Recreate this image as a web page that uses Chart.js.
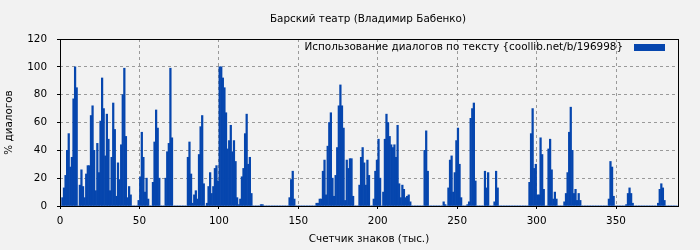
<!DOCTYPE html>
<html>
<head>
<meta charset="utf-8">
<script src="https://cdn.jsdelivr.net/npm/chart.js@4/dist/chart.umd.min.js"></script>
<style>
  html, body { margin: 0; padding: 0; background: #f2f2f2; }
  #wrap { width: 700px; height: 250px; position: relative; }
</style>
</head>
<body>
<div id="wrap"><canvas id="chart"></canvas></div>
<script>
const chartTitle = "Барский театр (Владимир Бабенко)";
const seriesLabel = "Использование диалогов по тексту {coollib.net/b/196998}";
const xTitle = "Счетчик знаков (тыс.)";
const yTitle = "% диалогов";

const xMax = 389;      // thousands of characters
const xTickStep = 50;
const yMax = 120;
const yTickStep = 20;

// dialog share per 1k characters
const dialogShare = [
  0, 6, 13, 22, 40, 52, 28, 35, 77, 100,
  85, 0, 15, 26, 14, 6, 23, 29, 29, 65,
  72, 40, 11, 45, 24, 61, 92, 70, 36, 66,
  48, 11, 35, 74, 55, 7, 31, 19, 44, 80,
  99, 50, 6, 14, 8, 0, 0, 0, 0, 4,
  21, 53, 35, 10, 20, 5, 0, 0, 17, 46,
  69, 56, 20, 0, 0, 0, 20, 39, 45, 99,
  49, 0, 0, 0, 0, 0, 0, 0, 0, 0,
  35, 46, 23, 2, 8, 11, 5, 37, 57, 65,
  16, 0, 2, 14, 24, 9, 14, 27, 29, 18,
  100, 100, 92, 85, 67, 41, 47, 58, 39, 47,
  32, 6, 1, 5, 21, 27, 52, 66, 30, 35,
  9, 0, 0, 0, 0, 0, 1, 1, 0, 0,
  0, 0, 0, 0, 0, 0, 0, 0, 0, 0,
  0, 0, 0, 0, 6, 19, 25, 5, 0, 0,
  0, 0, 0, 0, 0, 0, 0, 0, 0, 0,
  0, 2, 2, 5, 5, 25, 33, 8, 43, 60,
  67, 20, 7, 22, 42, 72, 87, 72, 56, 4,
  33, 27, 34, 34, 7, 0, 0, 0, 15, 35,
  42, 31, 15, 33, 22, 0, 0, 5, 25, 33,
  48, 20, 0, 10, 48, 66, 60, 50, 44, 42,
  44, 35, 58, 16, 6, 15, 12, 6, 7, 8,
  3, 0, 0, 0, 0, 0, 0, 0, 0, 40,
  54, 25, 0, 0, 0, 0, 0, 0, 0, 0,
  0, 3, 1, 0, 13, 33, 36, 10, 24, 47,
  56, 30, 6, 0, 0, 0, 1, 3, 63, 70,
  74, 18, 0, 0, 0, 0, 0, 25, 13, 24,
  0, 0, 0, 3, 25, 13, 0, 0, 0, 0,
  0, 0, 0, 0, 0, 0, 0, 0, 0, 0,
  0, 0, 0, 0, 0, 17, 52, 70, 27, 30,
  8, 8, 49, 37, 12, 0, 0, 41, 48, 26,
  5, 10, 5, 0, 0, 0, 0, 3, 9, 24,
  53, 71, 40, 9, 12, 4, 9, 4, 0, 0,
  0, 0, 0, 0, 0, 0, 0, 0, 0, 0,
  0, 0, 0, 0, 0, 5, 32, 28, 7, 0,
  0, 0, 0, 0, 0, 0, 1, 9, 13, 9,
  2, 0, 0, 0, 0, 0, 0, 0, 0, 0,
  0, 0, 0, 0, 0, 0, 2, 12, 16, 13,
  4, 0, 0, 0, 0, 0, 0, 0, 0
];

const barColor = "#0646ae";
const gridColor = "#9a9a9a";
const fontFamily = "'DejaVu Sans', sans-serif";
const fontSize = 10.4;

Chart.defaults.font.family = fontFamily;
Chart.defaults.font.size = fontSize;
Chart.defaults.color = "#000";

// each bar covers one thousand characters: [i, i+1)
const points = dialogShare.map((v, i) => ({ x: i + 0.5, y: v }));

const decor = {
  id: "decor",
  afterDatasetsDraw(chart) {
    const { ctx, chartArea: a } = chart;
    ctx.save();
    ctx.strokeStyle = "#000";
    ctx.lineWidth = 1;
    ctx.strokeRect(a.left + 0.5, a.top + 0.5, a.right - a.left, a.bottom - a.top);
    ctx.restore();
  },
  afterDraw(chart) {
    const { ctx, chartArea: a } = chart;
    ctx.save();
    ctx.fillStyle = "#000";
    ctx.font = fontSize + "px " + fontFamily;
    ctx.textBaseline = "middle";
    ctx.textAlign = "center";
    ctx.fillText(chartTitle, (a.left + a.right) / 2 - 1, 19);

    // legend, inside the plot at top right
    ctx.textAlign = "right";
    ctx.fillText(chart.data.datasets[0].label, a.right - 55, a.top + 8.5);
    ctx.fillStyle = barColor;
    ctx.fillRect(a.right - 44, a.top + 5, 31, 7);
    ctx.restore();
  }
};

new Chart(document.getElementById("chart"), {
  type: "bar",
  data: {
    datasets: [{
      label: seriesLabel,
      data: points,
      backgroundColor: barColor,
      borderWidth: 0,
      barPercentage: 1,
      categoryPercentage: 1
    }]
  },
  options: {
    responsive: true,
    maintainAspectRatio: false,
    animation: false,
    devicePixelRatio: 1,
    events: [],
    layout: { padding: { left: 0, right: 22, top: 39, bottom: 0 } },
    plugins: {
      legend: { display: false },
      title: { display: false },
      tooltip: { enabled: false }
    },
    scales: {
      x: {
        type: "linear",
        min: 0,
        max: xMax,
        offset: false,
        afterFit(scale) { scale.height = 44; },
        ticks: { stepSize: xTickStep, includeBounds: false, padding: 6, maxRotation: 0 },
        grid: { offset: false, color: gridColor, tickColor: "#000", tickLength: 3 },
        border: { display: false, dash: [3, 3] },
        title: { display: true, text: xTitle, padding: { top: 4, bottom: 4 } }
      },
      y: {
        min: 0,
        max: yMax,
        afterFit(scale) { scale.width = 60; },
        ticks: { stepSize: yTickStep, padding: 10 },
        grid: { color: gridColor, tickColor: "#000", tickLength: 3 },
        border: { display: false, dash: [3, 3] },
        title: { display: true, text: yTitle, padding: { top: 3, bottom: 3 } }
      }
    }
  },
  plugins: [decor]
});
</script>
</body>
</html>
